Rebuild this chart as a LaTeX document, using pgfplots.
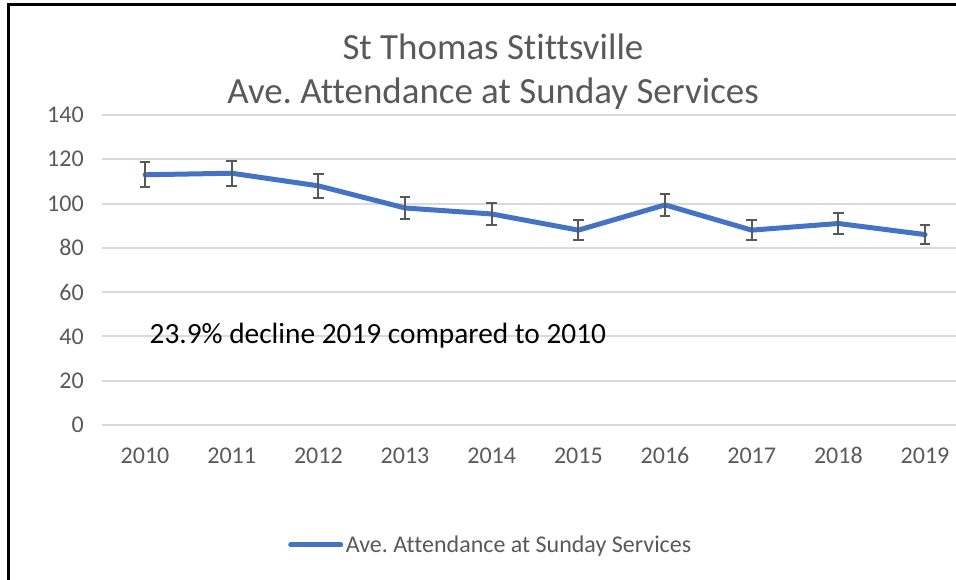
\documentclass[border=0pt]{standalone}
\usepackage{fontspec}
\setmainfont{Carlito}[Ligatures=NoCommon]
\usepackage{pgfplots}
\pgfplotsset{compat=1.18}
\definecolor{lineblue}{HTML}{4472C4}
\definecolor{txtgray}{HTML}{595959}
\definecolor{gridgray}{HTML}{D9D9D9}
\frenchspacing

\begin{document}
\begin{tikzpicture}
% canvas 956x580 px at 0.75pt per px
\useasboundingbox (0pt,0pt) rectangle (717pt,435pt);
\draw[line width=2.25pt] (6pt,-2pt) -- (6pt,431.25pt) -- (720pt,431.25pt);

\node[anchor=base, inner sep=0pt, text=txtgray, font=\fontsize{27.7}{33}\selectfont]
  at (369.75pt,390pt) {St Thomas Stittsville};
\node[anchor=base, inner sep=0pt, text=txtgray, font=\fontsize{27.7}{33}\selectfont]
  at (369.75pt,357pt) {Ave. Attendance at Sunday Services};

\begin{axis}[
  at={(76.3pt,116.25pt)}, anchor=south west,
  scale only axis,
  width=640.7pt, height=232.5pt,
  xmin=-0.5, xmax=9.357,
  ymin=0, ymax=140,
  xtick={0,...,9},
  xticklabels={2010,2011,2012,2013,2014,2015,2016,2017,2018,2019},
  ytick={0,20,...,140},
  ymajorgrids,
  grid style={gridgray, line width=1.5pt},
  axis line style={draw=none},
  major tick length=0pt,
  tick label style={font=\fontsize{18}{21}\selectfont, text=txtgray},
  /pgf/number format/assume math mode=true,
  yticklabel style={xshift=-10pt},
  xticklabel style={anchor=north, text height=12pt, text depth=0pt, yshift=-13.5pt},
  legend style={draw=none, fill=none, at={(0.218,-0.387)}, anchor=west,
    font=\fontsize{18}{21}\selectfont, text=txtgray, inner sep=0pt},
  legend image code/.code={
    \draw[lineblue, line width=3.75pt, line cap=round] (1.9pt,0pt) -- (39.4pt,0pt);},
]
\addplot[lineblue, line width=3.75pt, line join=round, line cap=round,
  error bars/.cd, y dir=both, y fixed relative=0.05,
  error bar style={txtgray, line width=1.5pt, line cap=butt},
  error mark options={rotate=90, txtgray, mark size=4pt, line width=1.5pt}]
coordinates {
  (0,113) (1,113.7) (2,108) (3,98) (4,95.3)
  (5,88) (6,99.4) (7,88) (8,91) (9,86)
};
\addlegendentry{Ave. Attendance at Sunday Services}

\node[anchor=base west, inner sep=0pt, font=\fontsize{22}{26}\selectfont]
  at (axis cs:0.05,37) {23.9\% decline 2019 compared to 2010};
\end{axis}
\end{tikzpicture}
\end{document}
